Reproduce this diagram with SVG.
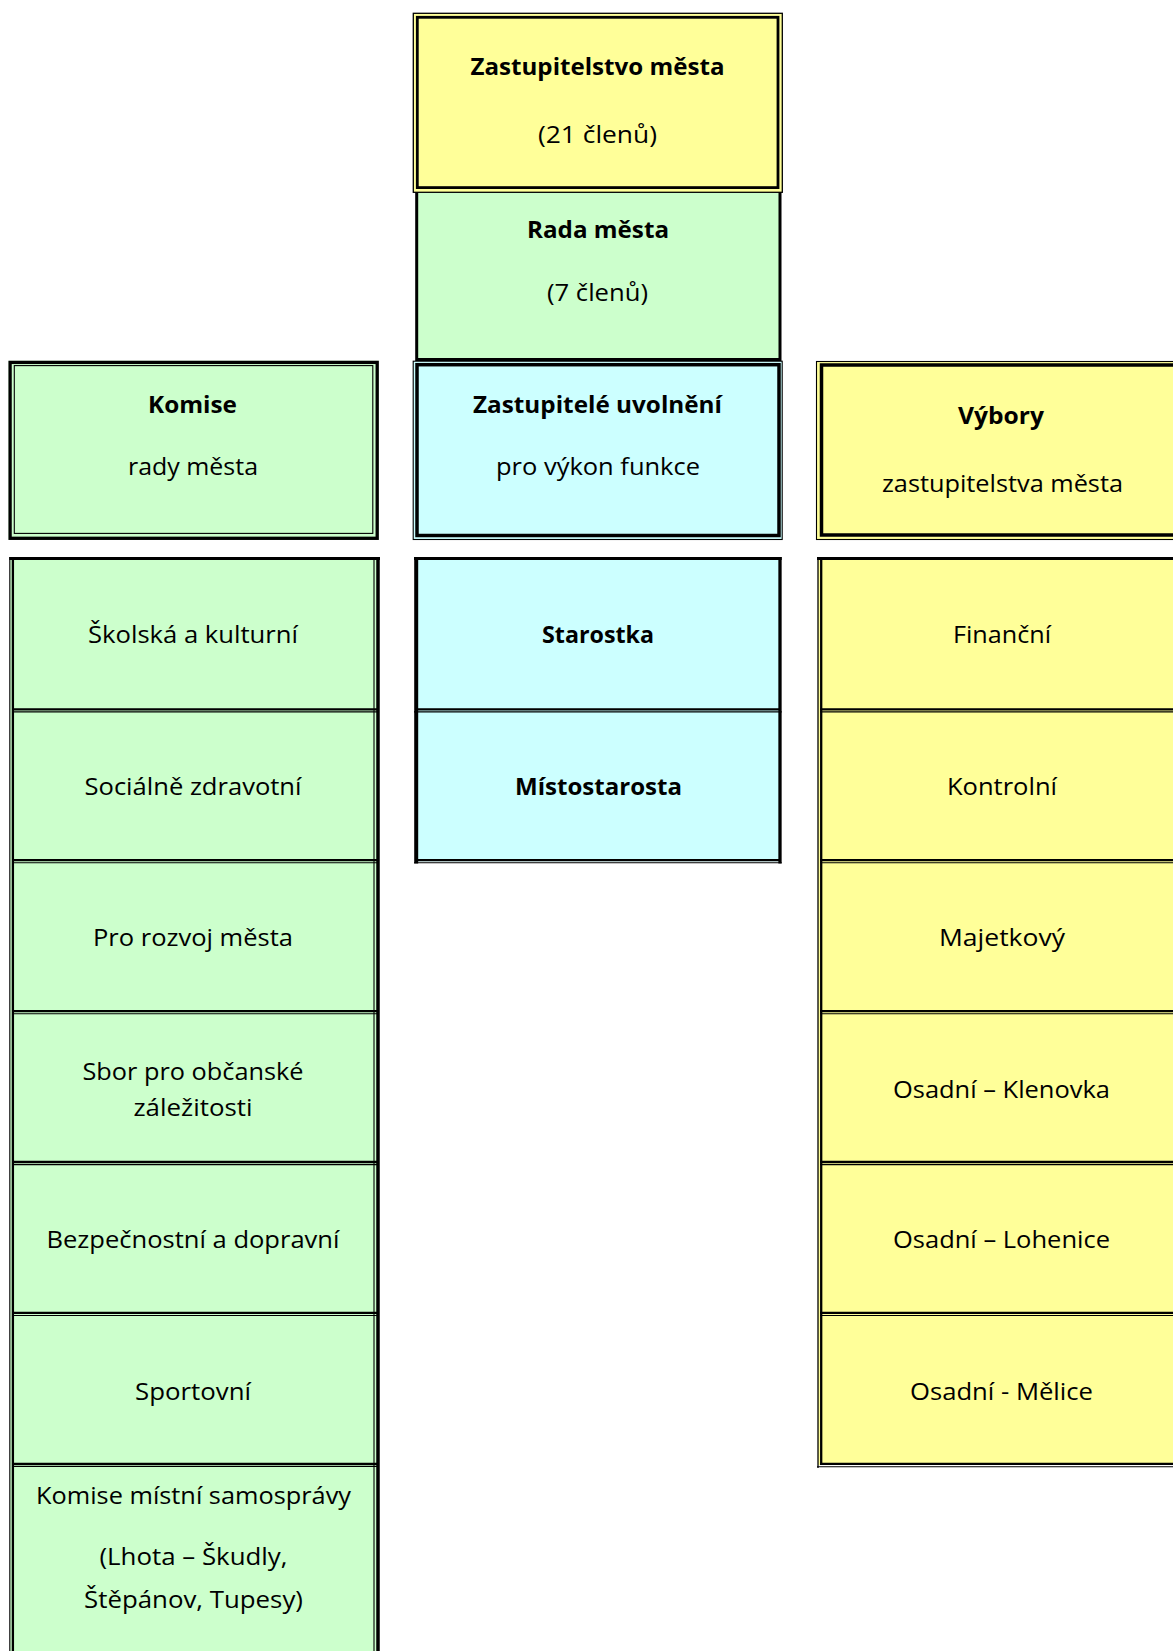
<svg xmlns="http://www.w3.org/2000/svg" width="1173" height="1651" viewBox="0 0 1173 1651">
<style>
.t{font-family:"Open Sans","Noto Sans","DejaVu Sans",sans-serif;font-size:23px;fill:#000;text-anchor:middle}
.b{font-weight:bold}
.y{fill:#FFFF99}.g{fill:#CCFFCC}.c{fill:#CCFFFF}
.k{fill:none;stroke:#000}
.th{stroke:#000;stroke-width:2.3;fill:none}
.tn{stroke:#000;stroke-width:1.1;fill:none}
</style>
<rect width="1173" height="1651" fill="#fff"/>
<g id="connectors"></g>

<g id="rada">
<rect x="416.7" y="193" width="363.3" height="166.5" class="g"/>
<path d="M416.7,192V359.5H780V192" class="k" stroke-width="3"/>
<text class="t b" x="598" y="238" textLength="142" lengthAdjust="spacingAndGlyphs">Rada města</text>
<text class="t" x="597.5" y="301" textLength="101" lengthAdjust="spacingAndGlyphs">(7 členů)</text>
</g>

<g id="zastupitelstvo">
<rect x="413.3" y="13.3" width="369" height="179" class="y"/>
<rect x="413.3" y="13.3" width="369" height="179" class="k" stroke-width="1.3"/>
<rect x="417.3" y="17.3" width="360.7" height="170.3" class="k" stroke-width="2.8"/>
<text class="t b" x="597.5" y="75" textLength="254" lengthAdjust="spacingAndGlyphs">Zastupitelstvo města</text>
<text class="t" x="597.5" y="143" textLength="119" lengthAdjust="spacingAndGlyphs">(21 členů)</text>
</g>

<g id="komise">
<rect x="8.5" y="360.7" width="370.3" height="179.3" class="g"/>
<rect x="10.1" y="362.4" width="367.1" height="175.9" class="k" stroke-width="3.3"/>
<rect x="14.3" y="365.6" width="358.5" height="167.8" class="k" stroke-width="1.1"/>
<text class="t b" x="192.5" y="413" textLength="89" lengthAdjust="spacingAndGlyphs">Komise</text>
<text class="t" x="193" y="475" textLength="130" lengthAdjust="spacingAndGlyphs">rady města</text>
</g>

<g id="uvolneni">
<rect x="413.2" y="361.2" width="369" height="178.3" class="c"/>
<rect x="413.2" y="361.2" width="369" height="178.3" class="k" stroke-width="1.1"/>
<rect x="417" y="364.7" width="362" height="170.8" class="k" stroke-width="3.5"/>
<text class="t b" x="597.5" y="413" textLength="249" lengthAdjust="spacingAndGlyphs">Zastupitelé uvolnění</text>
<text class="t" x="598" y="475" textLength="204" lengthAdjust="spacingAndGlyphs">pro výkon funkce</text>
</g>

<g id="vybory">
<rect x="816.5" y="361" width="380" height="178.5" class="y"/>
<rect x="816.5" y="361.5" width="380" height="178" class="k" stroke-width="1.1"/>
<rect x="821.5" y="365" width="370" height="170" class="k" stroke-width="3.5"/>
<text class="t b" x="1001" y="424" textLength="86" lengthAdjust="spacingAndGlyphs">Výbory</text>
<text class="t" x="1002.5" y="492" textLength="241" lengthAdjust="spacingAndGlyphs">zastupitelstva města</text>
</g>

<!-- Left list: komise rady -->
<g id="komise-list">
<rect x="10" y="557" width="368" height="1100" class="g"/>
<path d="M9.3,558.5H380" class="k" stroke-width="3"/>
<path d="M9.8,557V1660" class="tn"/>
<path d="M12.9,557V1660" class="th"/>
<path d="M374,560V1660" class="tn"/>
<path d="M378,557V1660" class="k" stroke-width="3.5"/>
<path d="M12,709.3H377M12,860.2H377M12,1011.1H377M12,1162H377M12,1312.9H377M12,1463.8H377" class="th"/>
<path d="M12,711.9H377M12,862.8H377M12,1013.7H377M12,1164.6H377M12,1315.5H377M12,1466.4H377" class="tn"/>
</g>
<g id="skolska"><text class="t" x="193" y="643" textLength="210" lengthAdjust="spacingAndGlyphs">Školská a kulturní</text></g>
<g id="socialne"><text class="t" x="193" y="795" textLength="217" lengthAdjust="spacingAndGlyphs">Sociálně zdravotní</text></g>
<g id="rozvoj"><text class="t" x="193" y="946" textLength="200" lengthAdjust="spacingAndGlyphs">Pro rozvoj města</text></g>
<g id="sbor">
<text class="t" x="193" y="1080" textLength="221" lengthAdjust="spacingAndGlyphs">Sbor pro občanské</text>
<text class="t" x="193" y="1116" textLength="119" lengthAdjust="spacingAndGlyphs">záležitosti</text>
</g>
<g id="bezpecnostni"><text class="t" x="193" y="1248" textLength="293" lengthAdjust="spacingAndGlyphs">Bezpečnostní a dopravní</text></g>
<g id="sportovni"><text class="t" x="193" y="1400" textLength="116" lengthAdjust="spacingAndGlyphs">Sportovní</text></g>
<g id="samosprava">
<text class="t" x="193.5" y="1504" textLength="315" lengthAdjust="spacingAndGlyphs">Komise místní samosprávy</text>
<text class="t" x="193.5" y="1565" textLength="188" lengthAdjust="spacingAndGlyphs">(Lhota – Škudly,</text>
<text class="t" x="193.5" y="1608" textLength="219" lengthAdjust="spacingAndGlyphs">Štěpánov, Tupesy)</text>
</g>

<!-- Middle list -->
<g id="stem-list">
<rect x="416" y="557" width="364" height="304.5" class="c"/>
<path d="M414,558.5H781.7" class="k" stroke-width="3"/>
<path d="M416.2,557V863.5" class="k" stroke-width="4"/>
<path d="M780,557V863.5" class="k" stroke-width="3.3"/>
<path d="M416,709.3H780M416,860.2H780" class="th"/>
<path d="M414,711.9H781.7M414,862.8H781.7" class="tn"/>
</g>
<g id="starostka"><text class="t b" x="598" y="643" textLength="112" lengthAdjust="spacingAndGlyphs">Starostka</text></g>
<g id="mistostarosta"><text class="t b" x="598.5" y="795" textLength="167" lengthAdjust="spacingAndGlyphs">Místostarosta</text></g>

<!-- Right list -->
<g id="vybory-list">
<rect x="818" y="557" width="380" height="908" class="y"/>
<path d="M817,558.5H1190" class="k" stroke-width="3"/>
<path d="M818,557V1468" class="k" stroke-width="1.3"/>
<path d="M821.2,557V1465" class="th"/>
<path d="M820,709.3H1190M820,860.2H1190M820,1011.1H1190M820,1162H1190M820,1312.9H1190M820,1463.8H1190" class="th"/>
<path d="M820,711.9H1190M820,862.8H1190M820,1013.7H1190M820,1164.6H1190M820,1315.5H1190M817,1466.8H1190" class="tn"/>
</g>
<g id="financni"><text class="t" x="1002" y="643" textLength="98" lengthAdjust="spacingAndGlyphs">Finanční</text></g>
<g id="kontrolni"><text class="t" x="1002" y="795" textLength="110" lengthAdjust="spacingAndGlyphs">Kontrolní</text></g>
<g id="majetkovy"><text class="t" x="1002" y="946" textLength="126" lengthAdjust="spacingAndGlyphs">Majetkový</text></g>
<g id="klenovka"><text class="t" x="1001.5" y="1098" textLength="217" lengthAdjust="spacingAndGlyphs">Osadní – Klenovka</text></g>
<g id="lohenice"><text class="t" x="1001.5" y="1248" textLength="217" lengthAdjust="spacingAndGlyphs">Osadní – Lohenice</text></g>
<g id="melice"><text class="t" x="1001.5" y="1400" textLength="183" lengthAdjust="spacingAndGlyphs">Osadní - Mělice</text></g>
</svg>
